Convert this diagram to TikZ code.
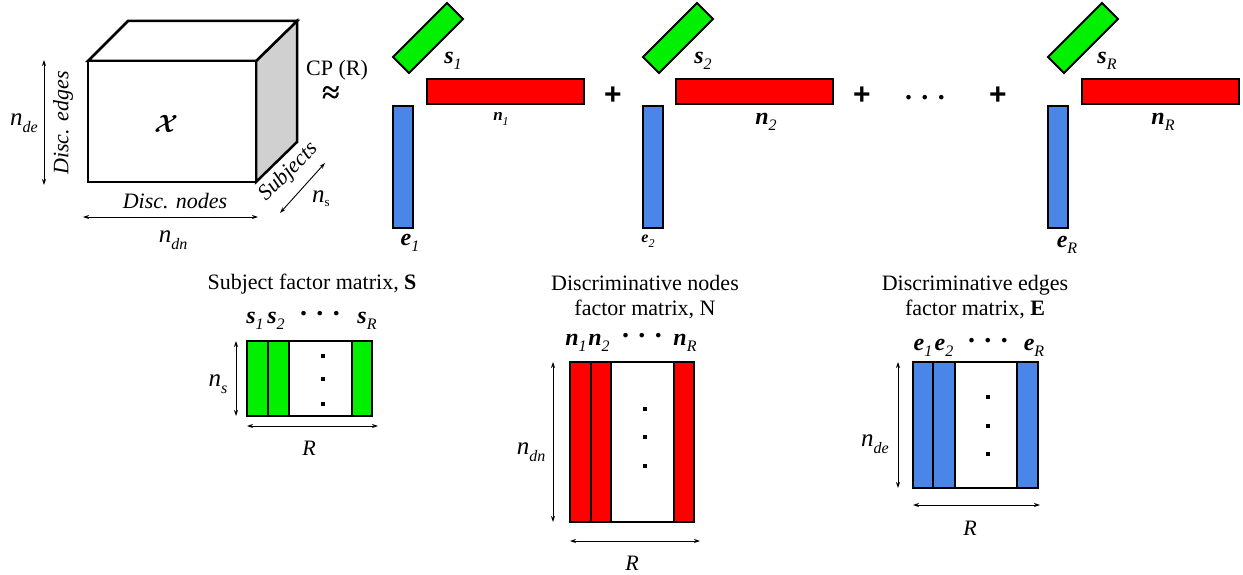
\documentclass[tikz,border=0pt]{standalone}
\usepackage{amsmath}
\usepackage{fontspec}
\setmainfont{Liberation Serif}
\newfontfamily\sansb{Liberation Sans}
\usetikzlibrary{arrows.meta}
\definecolor{cgreen}{RGB}{0,240,0}
\definecolor{cred}{RGB}{255,0,0}
\definecolor{cblue}{RGB}{74,134,232}
\definecolor{cgray}{RGB}{208,208,208}
% bold italic vector with italic subscript: letter, sub, size, subsize
\newcommand{\bvec}[4]{{\fontsize{#3}{#3}\selectfont\bfseries\itshape #1}{\fontsize{#4}{#4}\selectfont\itshape\raisebox{-0.4em}{#2}}}
% italic variable with subscript
\newcommand{\ivar}[2]{{\fontsize{25}{25}\selectfont\itshape n}{\fontsize{16}{16}\selectfont\itshape\raisebox{-0.45em}{#2}}}
\tikzset{
  box/.style={line width=2pt, line join=miter},
  gbox/.style={box, fill=cgreen},
  rbox/.style={box, fill=cred},
  bbox/.style={box, fill=cblue},
  dimarr/.style={line width=0.9pt, {Stealth[length=6pt,width=4pt]}-{Stealth[length=6pt,width=4pt]}},
  txt/.style={inner sep=0pt, font=\fontsize{22}{25}\selectfont},
  itxt/.style={inner sep=0pt, font=\itshape\fontsize{22}{24}\selectfont},
  plus/.style={inner sep=0pt, font=\sansb\bfseries\fontsize{30}{30}\selectfont},
  dots/.style={inner sep=0pt, font=\bfseries\fontsize{28}{28}\selectfont},
  vdot/.style={fill=black, minimum size=3.5pt, inner sep=0pt, shape=rectangle}
}
\begin{document}
\begin{tikzpicture}[x=1pt,y=-1pt]
\useasboundingbox (0,0) rectangle (1243,575);
% ---------- cube ----------
\draw[line width=2.5pt, fill=cgray, line join=miter] (256,61) -- (297,21) -- (297,142) -- (256,182) -- cycle;
\draw[line width=2.5pt, fill=white, line join=miter] (88,61) -- (128,21) -- (297,21) -- (256,61) -- cycle;
\draw[line width=2.5pt, fill=white, line join=miter] (88,61) rectangle (256,182);
\node[inner sep=0pt, font=\fontsize{32}{32}\selectfont] (tensor) at (166,124) {$\boldsymbol{\mathcal{X}}$};
\coordinate (ea) at (44,60); \coordinate (eb) at (44,185);
\draw[dimarr] (ea) -- (eb);
\node[txt] (nde) at (24,123) {\ivar{n}{de}};
\node[itxt, rotate=90] (dedges) at (63,123) {Disc. edges};
\coordinate (na) at (83,217); \coordinate (nb) at (258,217);
\draw[dimarr] (na) -- (nb);
\node[itxt] (dnodes) at (175,201) {Disc. nodes};
\node[txt] (ndn) at (173,240) {\ivar{n}{dn}};
\node[itxt, rotate=45] (subj) at (289,172) {Subjects};
\coordinate (sa) at (325,163); \coordinate (sb) at (280,213);
\draw[dimarr] (sa) -- (sb);
\node[txt] (ns) at (321,199) {{\fontsize{25}{25}\selectfont\itshape n}{\fontsize{13}{13}\selectfont\raisebox{-0.3em}{s}}};
\node[txt] (cp) at (337,70) {CP (R)};
\node[inner sep=0pt, font=\bfseries\fontsize{32}{32}\selectfont] (approx) at (331,95) {≈};
% ---------- term 1 ----------
\draw[gbox] (393,57) -- (409,73) -- (463,19) -- (447,3) -- cycle;
\draw[rbox] (427,79) rectangle (584,104);
\draw[bbox] (393,106) rectangle (413,228);
\node[inner sep=0pt] (s1) at (453,61) {\bvec{s}{1}{24}{16}};
\node[inner sep=0pt] (n1) at (501,119) {\bvec{n}{1}{17}{12}};
\node[inner sep=0pt] (e1) at (410,243) {\bvec{e}{1}{24}{16}};
\node[plus] (p1) at (613,96) {+};
% ---------- term 2 ----------
\draw[gbox] (643,57) -- (659,73) -- (713,19) -- (697,3) -- cycle;
\draw[rbox] (676,79) rectangle (833,104);
\draw[bbox] (643,106) rectangle (663,228);
\node[inner sep=0pt] (s2) at (703,61) {\bvec{s}{2}{24}{16}};
\node[inner sep=0pt] (n2) at (766,122) {\bvec{n}{2}{24}{16}};
\node[inner sep=0pt] (e2) at (648,241) {\bvec{e}{2}{16}{12}};
\node[plus] (p2) at (862,96) {+};
\node[dots] (tdots) at (925,98) {.\,\,.\,\,.};
\node[plus] (p3) at (998,96) {+};
% ---------- term R ----------
\draw[gbox] (1048,57) -- (1064,73) -- (1118,19) -- (1102,3) -- cycle;
\draw[rbox] (1082,79) rectangle (1239,104);
\draw[bbox] (1048,106) rectangle (1068,228);
\node[inner sep=0pt] (sR) at (1107,61) {\bvec{s}{R}{24}{16}};
\node[inner sep=0pt] (nR) at (1163,122) {\bvec{n}{R}{24}{16}};
\node[inner sep=0pt] (eR) at (1067,245) {\bvec{e}{R}{24}{16}};
% ---------- S matrix ----------
\node[txt] (tS) at (312,284) {Subject factor matrix, \textbf{S}};
\node[inner sep=0pt] (ms1) at (255,321) {\bvec{s}{1}{24}{16}};
\node[inner sep=0pt] (ms2) at (276,321) {\bvec{s}{2}{24}{16}};
\node[dots] (msd) at (320,314) {.\,\,.\,\,.};
\node[inner sep=0pt] (msR) at (367,321) {\bvec{s}{R}{24}{16}};
\draw[box, fill=white] (247,341) rectangle (372,416);
\draw[gbox] (247,341) rectangle (268,416);
\draw[gbox] (268,341) rectangle (289,416);
\draw[gbox] (352,341) rectangle (372,416);
\node[vdot] (sd1) at (323,356) {}; \node[vdot] (sd2) at (323,379) {}; \node[vdot] (sd3) at (323,404) {};
\coordinate (sva) at (236,341); \coordinate (svb) at (236,416);
\draw[dimarr] (sva) -- (svb);
\node[txt] (mns) at (218,384) {{\fontsize{25}{25}\selectfont\itshape n}{\fontsize{16}{16}\selectfont\itshape\raisebox{-0.45em}{s}}};
\coordinate (sha) at (247,426); \coordinate (shb) at (378,426);
\draw[dimarr] (sha) -- (shb);
\node[itxt] (sRlab) at (309,448) {R};
% ---------- N matrix ----------
\node[txt, align=center] (tN) at (645,297) {Discriminative nodes\\factor matrix, N};
\node[inner sep=0pt] (mn1) at (576,343) {\bvec{n}{1}{24}{16}};
\node[inner sep=0pt] (mn2) at (599,343) {\bvec{n}{2}{24}{16}};
\node[dots] (mnd) at (642,336) {.\,\,.\,\,.};
\node[inner sep=0pt] (mnR) at (685,343) {\bvec{n}{R}{24}{16}};
\draw[box, fill=white] (570,362) rectangle (694,522);
\draw[rbox] (570,362) rectangle (591,522);
\draw[rbox] (591,362) rectangle (611,522);
\draw[rbox] (674,362) rectangle (694,522);
\node[vdot] (nd1) at (645,409) {}; \node[vdot] (nd2) at (645,437) {}; \node[vdot] (nd3) at (645,466) {};
\coordinate (nva) at (553,362); \coordinate (nvb) at (553,522);
\draw[dimarr] (nva) -- (nvb);
\node[txt] (mndn) at (531,452) {\ivar{n}{dn}};
\coordinate (nha) at (570,541); \coordinate (nhb) at (700,541);
\draw[dimarr] (nha) -- (nhb);
\node[itxt] (nRlab) at (632,563) {R};
% ---------- E matrix ----------
\node[txt, align=center] (tE) at (975,297) {Discriminative edges\\factor matrix, \textbf{E}};
\node[inner sep=0pt] (me1) at (923,348) {\bvec{e}{1}{24}{16}};
\node[inner sep=0pt] (me2) at (944,348) {\bvec{e}{2}{24}{16}};
\node[dots] (med) at (988,341) {.\,\,.\,\,.};
\node[inner sep=0pt] (meR) at (1034,348) {\bvec{e}{R}{24}{16}};
\draw[box, fill=white] (913,362) rectangle (1038,488);
\draw[bbox] (913,362) rectangle (933,488);
\draw[bbox] (933,362) rectangle (955,488);
\draw[bbox] (1017,362) rectangle (1038,488);
\node[vdot] (ed1) at (988,397) {}; \node[vdot] (ed2) at (988,426) {}; \node[vdot] (ed3) at (988,454) {};
\coordinate (eva) at (898,362); \coordinate (evb) at (898,488);
\draw[dimarr] (eva) -- (evb);
\node[txt] (mnde) at (875,444) {\ivar{n}{de}};
\coordinate (eha) at (913,505); \coordinate (ehb) at (1040,505);
\draw[dimarr] (eha) -- (ehb);
\node[itxt] (eRlab) at (970,528) {R};
\end{tikzpicture}
\end{document}
